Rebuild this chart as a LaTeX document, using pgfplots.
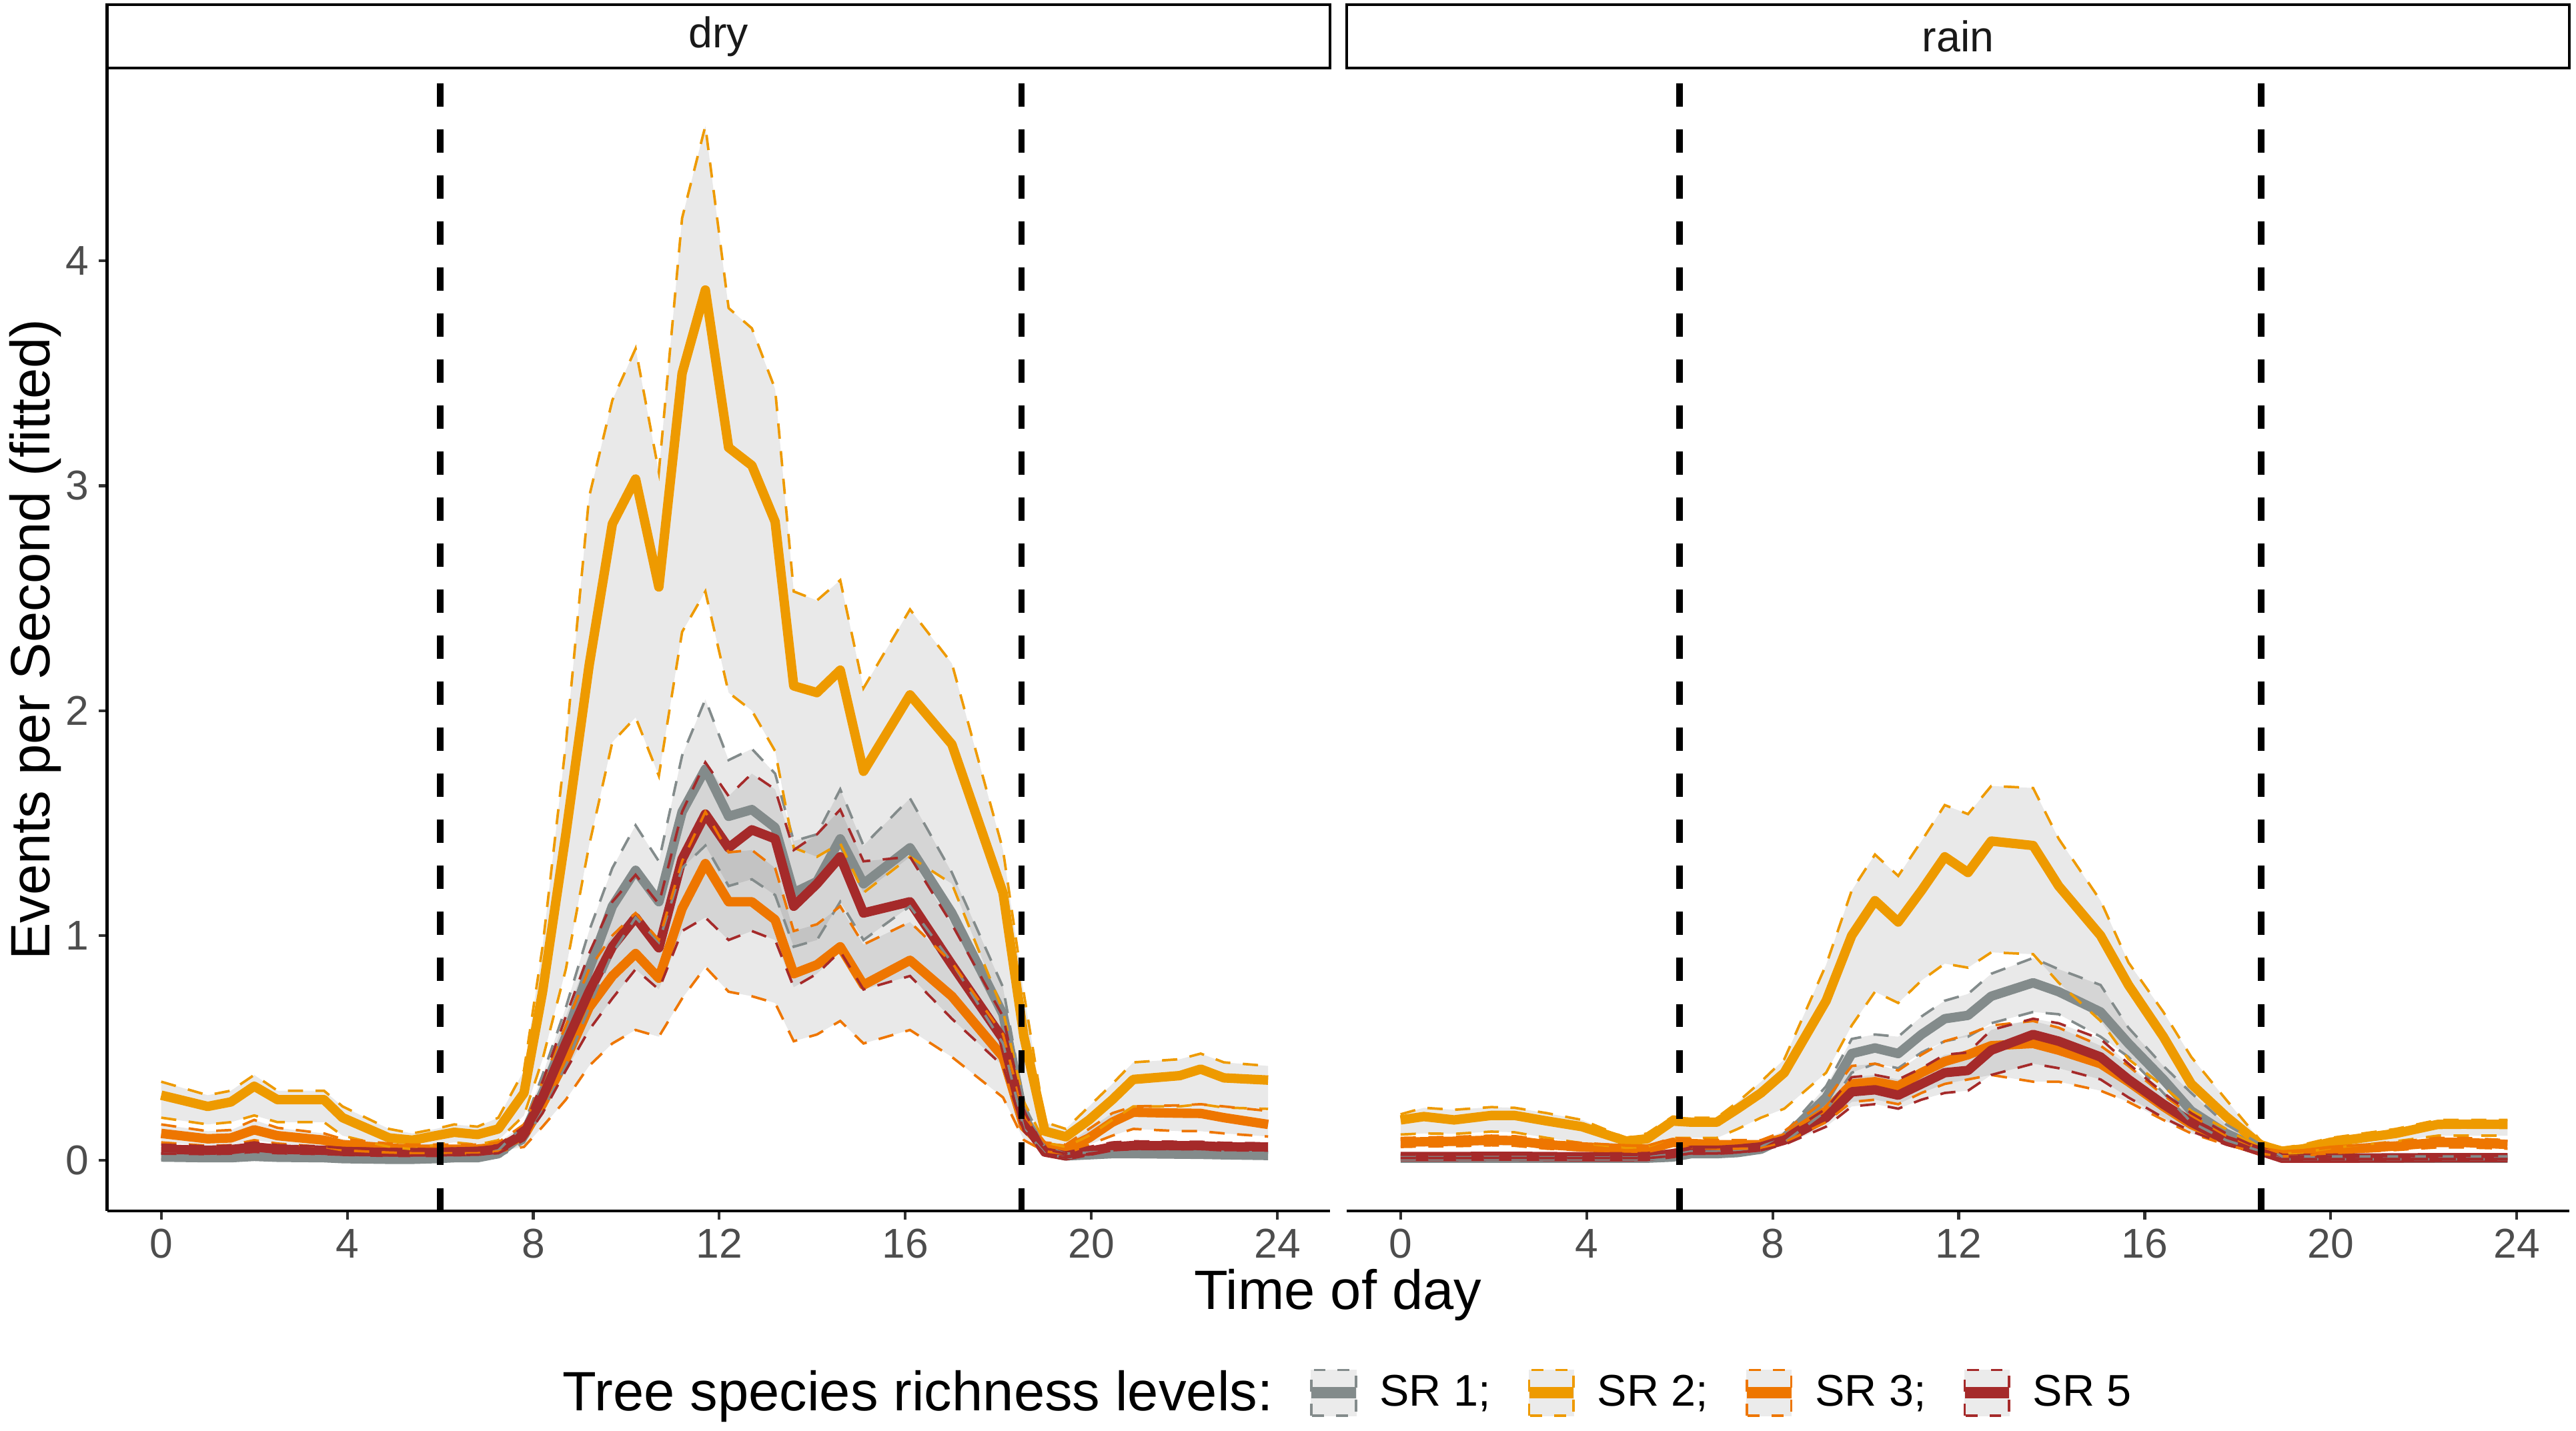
\documentclass[border=0pt]{standalone}
\usepackage{fontspec}
\setmainfont{Liberation Sans}
\usepackage{pgfplots}
\usepackage{pgfplotstable}
\pgfplotsset{compat=1.18}
\usepgfplotslibrary{fillbetween}

\definecolor{sr1}{HTML}{838B8B}
\definecolor{sr2}{HTML}{EE9A00}
\definecolor{sr3}{HTML}{EE7600}
\definecolor{sr5}{HTML}{A52A2A}
\definecolor{tickgray}{HTML}{4D4D4D}

% fitted events per second, dry days
\pgfplotstableread{
h     m1    l1    u1    m2    l2    u2    m3    l3    u3    m5    l5    u5
0     0.015 0.005 0.030 0.29  0.19  0.35  0.12  0.08  0.16  0.050 0.030 0.070
1.0   0.012 0.004 0.025 0.24  0.16  0.29  0.096 0.065 0.13  0.045 0.028 0.063
1.5   0.012 0.004 0.025 0.26  0.17  0.31  0.10  0.068 0.135 0.048 0.030 0.066
2.0   0.018 0.006 0.035 0.33  0.20  0.38  0.136 0.09  0.18  0.060 0.038 0.080
2.5   0.014 0.005 0.028 0.27  0.17  0.31  0.11  0.075 0.145 0.050 0.032 0.068
3.5   0.012 0.004 0.025 0.27  0.17  0.31  0.09  0.06  0.12  0.045 0.028 0.062
3.9   0.008 0.003 0.018 0.19  0.11  0.24  0.07  0.045 0.095 0.040 0.025 0.055
4.9   0.005 0.002 0.012 0.10  0.06  0.14  0.055 0.035 0.075 0.035 0.022 0.050
5.4   0.005 0.002 0.012 0.09  0.05  0.12  0.05  0.032 0.07  0.035 0.022 0.050
5.9   0.008 0.003 0.016 0.11  0.07  0.14  0.05  0.032 0.07  0.035 0.022 0.050
6.3   0.012 0.004 0.022 0.125 0.08  0.16  0.05  0.032 0.07  0.038 0.024 0.053
6.8   0.012 0.004 0.022 0.115 0.07  0.15  0.05  0.032 0.07  0.040 0.025 0.055
7.25  0.030 0.015 0.045 0.14  0.09  0.19  0.06  0.04  0.08  0.050 0.032 0.068
7.8   0.12  0.08  0.16  0.30  0.20  0.40  0.11  0.06  0.16  0.12  0.09  0.15
8.2   0.30  0.22  0.38  0.75  0.45  0.95  0.25  0.15  0.35  0.28  0.21  0.35
8.7   0.55  0.42  0.68  1.45  0.85  1.85  0.45  0.27  0.60  0.52  0.40  0.64
9.2   0.85  0.68  1.02  2.20  1.40  2.95  0.68  0.42  0.85  0.75  0.58  0.92
9.7   1.13  0.92  1.30  2.83  1.86  3.38  0.82  0.52  1.00  0.95  0.72  1.15
10.2  1.29  1.08  1.49  3.03  1.97  3.61  0.92  0.58  1.10  1.08  0.85  1.27
10.7  1.15  0.97  1.33  2.55  1.71  3.06  0.81  0.55  0.98  0.945 0.76  1.14
11.2  1.55  1.30  1.80  3.50  2.35  4.19  1.12  0.72  1.33  1.34  1.02  1.55
11.7  1.74  1.40  2.05  3.87  2.53  4.60  1.32  0.86  1.55  1.54  1.08  1.77
12.2  1.53  1.22  1.78  3.17  2.08  3.79  1.15  0.75  1.37  1.39  0.98  1.62
12.7  1.56  1.25  1.83  3.09  2.00  3.70  1.15  0.73  1.38  1.47  1.02  1.72
13.2  1.48  1.18  1.72  2.84  1.82  3.43  1.07  0.70  1.30  1.43  0.98  1.65
13.6  1.19  0.95  1.42  2.11  1.39  2.53  0.83  0.53  1.02  1.13  0.77  1.38
14.1  1.24  0.98  1.45  2.08  1.35  2.49  0.87  0.56  1.05  1.23  0.83  1.45
14.6  1.43  1.15  1.65  2.18  1.41  2.58  0.95  0.62  1.13  1.35  0.93  1.56
15.1  1.23  0.98  1.40  1.73  1.19  2.10  0.78  0.52  0.96  1.10  0.76  1.33
16.1  1.39  1.13  1.61  2.07  1.35  2.45  0.89  0.58  1.06  1.15  0.82  1.35
17.0  1.10  0.88  1.28  1.85  1.23  2.21  0.73  0.46  0.88  0.87  0.63  1.05
18.1  0.65  0.52  0.77  1.19  0.665 1.38  0.46  0.28  0.56  0.54  0.42  0.64
18.55 0.19  0.14  0.25  0.55  0.26  0.74  0.15  0.09  0.20  0.17  0.13  0.22
19.0  0.040 0.03  0.06  0.13  0.08  0.17  0.06  0.04  0.08  0.037 0.025 0.05
19.45 0.020 0.012 0.03  0.105 0.06  0.14  0.05  0.03  0.07  0.020 0.012 0.03
19.95 0.025 0.015 0.035 0.18  0.11  0.24  0.10  0.07  0.14  0.040 0.03  0.06
20.45 0.030 0.018 0.04  0.27  0.18  0.34  0.17  0.11  0.21  0.060 0.045 0.08
20.9  0.030 0.018 0.04  0.36  0.24  0.436 0.214 0.14  0.24  0.066 0.05  0.085
21.9  0.028 0.017 0.04  0.377 0.24  0.45  0.21  0.13  0.245 0.065 0.05  0.083
22.35 0.027 0.016 0.04  0.406 0.25  0.475 0.209 0.13  0.25  0.065 0.05  0.083
22.85 0.025 0.015 0.038 0.367 0.235 0.436 0.19  0.12  0.24  0.060 0.046 0.078
23.8  0.022 0.013 0.035 0.357 0.229 0.42  0.16  0.106 0.22  0.059 0.045 0.076
}\drytab

% fitted events per second, rainy days
\pgfplotstableread{
h     m1    l1    u1    m2    l2    u2    m3    l3    u3    m5    l5    u5
0     0.010 0.004 0.020 0.18  0.115 0.205 0.081 0.06  0.10  0.017 0.010 0.025
0.5   0.010 0.004 0.020 0.195 0.12  0.234 0.083 0.062 0.102 0.017 0.010 0.025
1.15  0.010 0.004 0.020 0.18  0.118 0.225 0.085 0.063 0.105 0.017 0.010 0.025
1.95  0.010 0.004 0.020 0.20  0.128 0.237 0.09  0.067 0.11  0.018 0.011 0.026
2.45  0.010 0.004 0.020 0.20  0.125 0.234 0.088 0.065 0.108 0.018 0.011 0.026
3.15  0.010 0.004 0.020 0.175 0.10  0.21  0.07  0.052 0.09  0.017 0.010 0.025
3.9   0.010 0.004 0.020 0.15  0.077 0.18  0.06  0.045 0.078 0.016 0.010 0.024
4.85  0.010 0.004 0.020 0.086 0.056 0.10  0.052 0.04  0.066 0.016 0.010 0.024
5.3   0.010 0.004 0.020 0.096 0.06  0.12  0.05  0.038 0.064 0.017 0.010 0.025
5.85  0.015 0.008 0.025 0.175 0.10  0.195 0.08  0.06  0.10  0.030 0.020 0.040
6.25  0.030 0.020 0.040 0.17  0.10  0.19  0.075 0.056 0.095 0.045 0.032 0.058
6.8   0.030 0.020 0.040 0.17  0.10  0.19  0.07  0.052 0.09  0.045 0.032 0.058
7.25  0.035 0.024 0.046 0.23  0.14  0.26  0.07  0.052 0.09  0.05  0.036 0.064
7.75  0.05  0.04  0.06  0.30  0.19  0.35  0.07  0.054 0.09  0.06  0.045 0.075
8.25  0.10  0.08  0.12  0.39  0.23  0.45  0.10  0.08  0.13  0.09  0.07  0.11
9.15  0.28  0.22  0.33  0.71  0.39  0.87  0.22  0.17  0.27  0.19  0.15  0.23
9.7   0.475 0.39  0.54  1.00  0.60  1.20  0.34  0.26  0.42  0.305 0.24  0.37
10.2  0.50  0.43  0.56  1.155 0.75  1.36  0.35  0.27  0.43  0.314 0.25  0.38
10.7  0.475 0.41  0.55  1.06  0.70  1.265 0.33  0.25  0.40  0.29  0.23  0.36
11.2  0.56  0.48  0.64  1.20  0.80  1.42  0.39  0.30  0.47  0.34  0.27  0.41
11.7  0.63  0.53  0.71  1.35  0.875 1.58  0.44  0.34  0.53  0.39  0.30  0.47
12.2  0.645 0.55  0.74  1.28  0.857 1.54  0.47  0.36  0.56  0.40  0.31  0.48
12.7  0.73  0.61  0.83  1.42  0.925 1.665 0.51  0.38  0.60  0.49  0.38  0.58
13.6  0.79  0.66  0.90  1.40  0.917 1.656 0.52  0.35  0.62  0.56  0.43  0.63
14.15 0.75  0.65  0.85  1.22  0.79  1.43  0.49  0.35  0.59  0.53  0.41  0.61
15.05 0.66  0.55  0.78  1.00  0.62  1.155 0.43  0.31  0.51  0.46  0.36  0.54
15.65 0.52  0.46  0.59  0.78  0.45  0.88  0.35  0.26  0.42  0.36  0.28  0.43
16.4  0.36  0.30  0.42  0.55  0.33  0.66  0.24  0.18  0.29  0.25  0.19  0.30
17.0  0.22  0.17  0.30  0.34  0.22  0.46  0.16  0.12  0.20  0.17  0.13  0.21
17.75 0.12  0.09  0.16  0.195 0.14  0.27  0.09  0.07  0.11  0.09  0.07  0.12
18.5  0.05  0.04  0.07  0.068 0.05  0.085 0.04  0.03  0.05  0.04  0.03  0.05
18.95 0.010 0.005 0.018 0.041 0.03  0.055 0.025 0.018 0.034 0.010 0.005 0.018
19.4  0.010 0.005 0.018 0.051 0.035 0.07  0.03  0.02  0.04  0.010 0.005 0.018
20.0  0.010 0.005 0.018 0.081 0.055 0.10  0.045 0.032 0.058 0.010 0.005 0.018
21.4  0.010 0.005 0.018 0.12  0.085 0.14  0.064 0.046 0.082 0.011 0.006 0.019
22.3  0.010 0.005 0.018 0.16  0.11  0.18  0.08  0.058 0.10  0.012 0.006 0.020
22.85 0.010 0.005 0.018 0.161 0.11  0.18  0.08  0.058 0.10  0.012 0.006 0.020
23.8  0.010 0.005 0.018 0.16  0.11  0.18  0.071 0.052 0.09  0.012 0.006 0.020
}\raintab

% ribbon between lower and upper bound of one SR level
\newcommand\ribbon[2]{%
  \addplot[draw=none, forget plot, name path=lo#2] table[x=h, y=l#2] {#1};
  \addplot[draw=none, forget plot, name path=hi#2] table[x=h, y=u#2] {#1};
  \addplot[fill=black, fill opacity=0.085, draw=none, forget plot] fill between[of=lo#2 and hi#2];
}
\newcommand\meanline[3]{%
  \addplot[#3, line width=3.4pt, line join=round, forget plot] table[x=h, y=m#2] {#1};
}
\newcommand\cilines[3]{%
  \addplot[#3, line width=0.9pt, dash pattern=on 5.5pt off 4.5pt, forget plot] table[x=h, y=l#2] {#1};
  \addplot[#3, line width=0.9pt, dash pattern=on 5.5pt off 4.5pt, forget plot] table[x=h, y=u#2] {#1};
}
\newcommand\panel[1]{%
  \ribbon{#1}{1}\ribbon{#1}{2}\ribbon{#1}{3}\ribbon{#1}{5}
  \meanline{#1}{1}{sr1}\meanline{#1}{2}{sr2}\meanline{#1}{3}{sr3}\meanline{#1}{5}{sr5}
  \cilines{#1}{1}{sr1}\cilines{#1}{2}{sr2}\cilines{#1}{3}{sr3}\cilines{#1}{5}{sr5}
  \addplot[black, line width=2.3pt, dash pattern=on 8.3pt off 8.3pt, forget plot]
    coordinates {(6,-0.225) (6,4.858)};
  \addplot[black, line width=2.3pt, dash pattern=on 8.3pt off 8.3pt, forget plot]
    coordinates {(18.5,-0.225) (18.5,4.858)};
}
\newcommand\srkey[1]{%
  \fill[black!8] (0pt,-8.2pt) rectangle (16pt,8.2pt);
  \draw[#1, line width=0.9pt, dash pattern=on 4.3pt off 4.3pt] (0pt,-8.2pt) rectangle (16pt,8.2pt);
  \draw[#1, line width=4.2pt] (0pt,0pt) -- (16pt,0pt);
}

\pgfplotsset{
  facet/.style={
    scale only axis, width=440.9pt, height=412.3pt,
    xmin=-1.16, xmax=25.13, ymin=-0.225, ymax=4.858,
    xtick={0,4,...,24},
    axis x line*=bottom,
    axis line style={line width=1.1pt, -},
    tick align=outside, major tick length=3pt,
    tick style={black!80, line width=1pt},
    ticklabel style={font=\fontsize{15}{18}\selectfont, text=tickgray},
    /pgf/number format/assume math mode=true,
  },
}
\tikzset{strip/.style={draw=black, line width=1.1pt, fill=white}}

\begin{document}
\begin{tikzpicture}

\begin{axis}[facet, name=dry,
  at={(36.7pt,79.2pt)}, anchor=south west,
  axis y line*=left, ytick={0,1,2,3,4},
  ylabel={Events per Second (fitted)},
  ylabel style={font=\fontsize{20}{24}\selectfont, at={(axis description cs:-0.059,0.5)}, anchor=center},
  xlabel={Time of day},
  xlabel style={font=\fontsize{20}{24}\selectfont, at={(axis description cs:1.0065,-0.0733)}, anchor=center},
  legend style={at={(1.009,-0.159)}, anchor=center, draw=none, fill=none,
    font=\fontsize{16}{19}\selectfont, legend columns=-1,
    /tikz/every odd column/.append style={column sep=4.5pt},
    /tikz/every even column/.append style={column sep=9.8pt}},
  legend cell align=left,
]
\panel{\drytab}
\addlegendimage{empty legend}
\addlegendentry{\fontsize{20}{24}\selectfont Tree species richness levels:\hspace{18.5pt}}
\addlegendimage{legend image code/.code={\srkey{sr1}}}
\addlegendentry{SR 1;}
\addlegendimage{legend image code/.code={\srkey{sr2}}}
\addlegendentry{SR 2;}
\addlegendimage{legend image code/.code={\srkey{sr3}}}
\addlegendentry{SR 3;}
\addlegendimage{legend image code/.code={\srkey{sr5}}}
\addlegendentry{SR 5}
\end{axis}

\begin{axis}[facet, name=rain,
  at={(483.6pt,79.2pt)}, anchor=south west,
  axis y line=none, ytick=\empty,
]
\panel{\raintab}
\end{axis}

\draw[strip] (dry.north west) rectangle ([yshift=22.8pt]dry.north east);
\node[font=\fontsize{15.5}{18}\selectfont, text=black!90] at ([yshift=11.4pt]dry.north) {dry};
\draw[strip] (rain.north west) rectangle ([yshift=22.8pt]rain.north east);
\node[font=\fontsize{15.5}{18}\selectfont, text=black!90] at ([yshift=11.4pt]rain.north) {rain};
\path (0,0) rectangle (926.9pt,516pt);
\end{tikzpicture}
\end{document}
